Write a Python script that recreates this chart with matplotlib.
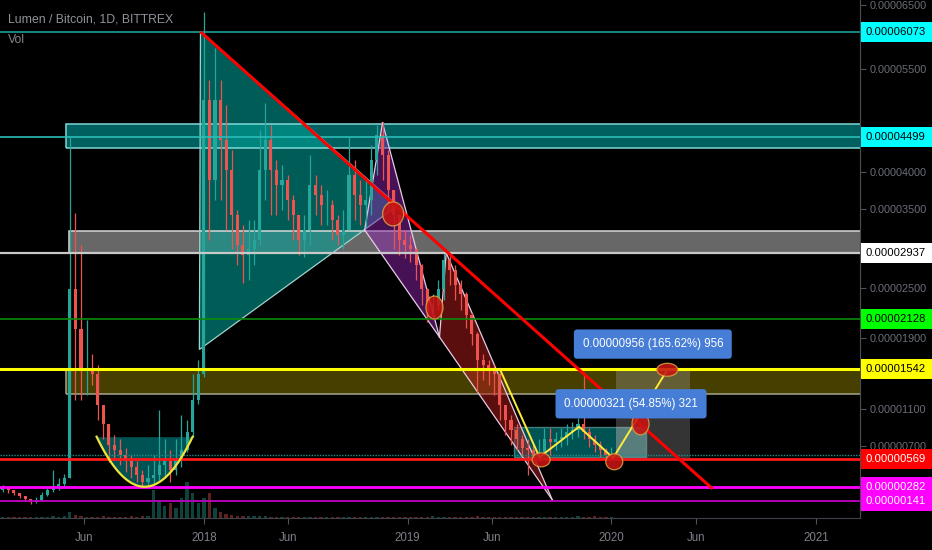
import numpy as np
import pandas as pd
import matplotlib
matplotlib.use("Agg")
import matplotlib.pyplot as plt
import matplotlib.dates as mdates
import matplotlib.transforms as mtransforms
from matplotlib.patches import Polygon, Ellipse, Rectangle

plt.rcParams['font.family'] = ['Liberation Sans', 'DejaVu Sans']

SAT = 1e-8  # values below are in satoshi (0.00000001 BTC)

# ---------------- data (10-day candles) ----------------
candle_start = "2017-01-01"
candle_step_days = 10
first_open = 250
close_sat = [270, 250, 220, 190, 160, 130, 150, 200, 250, 280,
             310, 370, 2480, 2000, 1530, 1530, 1480, 1140, 930, 710,
             660, 610, 540, 480, 400, 330, 370, 400, 500, 540,
             450, 560, 660, 850, 1200, 1480, 5030, 3900, 5030, 4450,
             4030, 3430, 3040, 2910, 2980, 3100, 4030, 4450, 4030, 3830,
             3900, 3630, 3430, 3100, 3230, 3830, 3690, 3560, 3560, 3360,
             3160, 3230, 3960, 3690, 3560, 3630, 4170, 4520, 4240, 3760,
             3430, 3100, 3040, 2980, 2780, 2480, 2230, 2290, 2480, 2850,
             2720, 2540, 2420, 2170, 1940, 1650, 1590, 1530, 1480, 1140,
             980, 870, 770, 680, 660, 610, 640, 770, 740, 770,
             800, 850, 870, 930, 850, 770, 710, 660, 610, 620]
high_sat = [300, 290, 250, 220, 190, 160, 180, 230, 270, 450,
            370, 410, 4499, 3450, 3040, 2110, 1710, 1590, 1140, 940,
            820, 770, 680, 610, 540, 450, 500, 610, 1090, 770,
            660, 770, 1030, 980, 1480, 1650, 6390, 5330, 5820, 5330,
            4960, 4310, 3490, 3300, 3360, 3360, 4600, 4990, 4670, 4170,
            4100, 3960, 3690, 3430, 3430, 4240, 3960, 3830, 3760, 3630,
            3430, 3490, 4500, 4170, 3900, 3900, 4380, 4670, 4710, 4310,
            3760, 3430, 3230, 3160, 2980, 2800, 2500, 2420, 2600, 2940,
            2910, 2780, 2600, 2450, 2200, 1970, 1710, 1650, 1590, 1500,
            1140, 1030, 930, 820, 770, 710, 770, 890, 890, 850,
            890, 930, 960, 1000, 1510, 890, 820, 750, 680, 690]
low_sat = [230, 220, 200, 170, 140, 110, 120, 140, 190, 230,
           250, 290, 370, 1200, 1200, 1250, 1360, 980, 770, 530,
           560, 500, 430, 370, 330, 290, 300, 310, 350, 370,
           330, 400, 480, 640, 800, 1150, 1450, 3100, 3630, 3630,
           3230, 2980, 2780, 2560, 2600, 2780, 3040, 3630, 3430, 3430,
           3490, 3360, 3100, 2910, 2890, 3040, 3430, 3300, 3300, 3100,
           3040, 2980, 3230, 3360, 3300, 3260, 3430, 3960, 3900, 3490,
           2980, 2910, 2870, 2820, 2600, 2290, 2090, 2130, 2230, 2350,
           2540, 2350, 2230, 2020, 1820, 1280, 1420, 1360, 1250, 980,
           820, 710, 660, 600, 400, 540, 540, 610, 610, 660,
           690, 710, 770, 800, 770, 690, 640, 590, 560, 560]
volume_k = [1, 1, 1, 1, 1, 1, 1, 1, 1, 2,
            1, 2, 6, 3, 2, 1, 1, 1, 2, 1,
            1, 1, 1, 2, 1, 2, 2, 28, 18, 12,
            15, 10, 20, 36, 25, 15, 20, 25, 10, 6,
            4, 3, 2, 2, 2, 2, 2, 2, 1, 1,
            1, 1, 1, 1, 1, 1, 1, 1, 1, 1,
            1, 1, 1, 1, 1, 1, 1, 1, 1, 1,
            1, 1, 1, 1, 1, 1, 1, 2, 1, 1,
            1, 1, 1, 1, 1, 2, 1, 1, 1, 1,
            1, 1, 1, 1, 1, 1, 1, 1, 1, 1,
            1, 1, 1, 2, 1, 1, 2, 1, 1, 1]

# horizontal levels (price, line colour, label colour, label text colour)
level_sat = [6073, 4499, 2937, 2128, 1542, 569, 282, 141]
level_line_colors = ['#1f9e98', '#2bbdb8', '#c8c8c8', '#0b8a0b', '#ffff00', '#ff1a1a', '#ff00ff', '#c000c0']
level_line_widths = [1.2, 1.2, 1.6, 1.2, 2.2, 2.0, 2.0, 1.3]
level_label_bg = ['#00ffff', '#00ffff', '#ffffff', '#00ff00', '#ffff00', '#ff0000', '#ff00ff', '#ff00ff']
level_label_fg = ['black', 'black', 'black', 'black', 'black', 'white', 'white', 'white']
dotted_level_sat = 610

# zones: start date, top, bottom
zone_start = ["2017-04-30", "2017-05-04", "2017-04-30"]
zone_top_sat = [4680, 3220, 1542]
zone_bot_sat = [4340, 2937, 1260]
zone_face = ['#00a0a0', '#909090', '#807400']
zone_alpha = [0.6, 0.72, 0.55]
zone_edge = ['#80d8d8', '#d8d8d8', '#a5a58f']

triangle_dates = ["2017-12-26", "2017-12-24", "2018-12-14"]
triangle_sat = [6073, 1765, 3550]

trend_dates = ["2017-12-26", "2020-06-30"]
trend_sat = [6073, 261]

xabcd_dates = ["2018-10-16", "2018-11-17", "2019-02-27", "2019-03-11", "2019-09-17"]
xabcd_sat = [3230, 4700, 1910, 2937, 150]

circle_dates = ["2018-12-06", "2019-02-18", "2019-08-28", "2020-01-06", "2020-02-22", "2020-04-10"]
circle_sat = [3440, 2260, 557, 537, 937, 1533]
circle_w_px = [21, 17, 18, 17, 17, 21]
circle_h_px = [24, 23, 14, 16, 22, 13]

zigzag_dates = ["2019-06-15", "2019-08-25", "2019-11-04", "2020-01-04", "2020-04-10"]
zigzag_sat = [1542, 585, 906, 577, 1533]

cup_dates = ["2017-06-23", "2017-09-19", "2017-12-12"]
cup_sat = [800, 282, 800]

range_box = ("2019-07-11", "2020-03-03", 585, 906)
measures = [("2020-01-09", "2020-05-20", 577, 1533, "0.00000956 (165.62%) 956", 18.5),
            ("2020-01-09", "2020-03-03", 585, 906, "0.00000321 (54.85%) 321", 16.5)]

ytick_sat = [6500, 5500, 4000, 3500, 2500, 1900, 1100, 700]
xtick_dates = ["2017-06-01", "2018-01-01", "2018-06-01", "2019-01-01",
               "2019-06-01", "2020-01-01", "2020-06-01", "2021-01-01"]
xtick_labels = ["Jun", "2018", "Jun", "2019", "Jun", "2020", "Jun", "2021"]
x_range = ("2017-01-01", "2021-03-21")
y_range_sat = (-29, 6582)

# ---------------- figure ----------------
W, H = 932, 550
fig = plt.figure(figsize=(W / 100, H / 100), dpi=100, facecolor='black')
pos = [0, 32 / H, 860 / W, 518 / H]
vax = fig.add_axes(pos, zorder=0)
ax = fig.add_axes(pos, zorder=1, sharex=vax)
ax.patch.set_visible(False)
vax.set_facecolor('black')


def fwd(p):
    return np.log10(np.asarray(p, dtype=float) + 1e-4)


def inv(t):
    return 10 ** np.asarray(t, dtype=float) - 1e-4


ax.set_yscale('function', functions=(fwd, inv))

d2n = lambda d: mdates.date2num(pd.Timestamp(d))

dates = pd.date_range(candle_start, periods=len(close_sat), freq=f"{candle_step_days}D") + pd.Timedelta(days=5)
xc = mdates.date2num(dates)
closes = np.array(close_sat) * SAT
opens = np.array([first_open] + close_sat[:-1]) * SAT
highs = np.array(high_sat) * SAT
lows = np.array(low_sat) * SAT
up = closes >= opens
col = np.where(up, '#26a69a', '#ef5350')

# volume
vax.bar(xc, volume_k, width=6, color=col, alpha=0.4, linewidth=0)
vax.set_ylim(0, max(volume_k) / 0.07)
vax.axis('off')

# zones
xmax_far = d2n("2022-01-01")
for s, t, b, fc, a, ec in zip(zone_start, zone_top_sat, zone_bot_sat, zone_face, zone_alpha, zone_edge):
    x0 = d2n(s)
    ax.add_patch(Rectangle((x0, b * SAT), xmax_far - x0, (t - b) * SAT, facecolor=fc, alpha=a,
                           edgecolor='none', zorder=1))
    ax.add_patch(Rectangle((x0, b * SAT), xmax_far - x0, (t - b) * SAT, facecolor='none',
                           edgecolor=ec, lw=1.1, zorder=1.1))

# big teal triangle
tri = [(d2n(d), p * SAT) for d, p in zip(triangle_dates, triangle_sat)]
ax.add_patch(Polygon(tri, closed=True, facecolor='#00a096', alpha=0.58, edgecolor='none', zorder=1))
ax.add_patch(Polygon(tri, closed=True, facecolor='none', edgecolor='#9fd4ce', lw=0.9, zorder=1.2))

# XABCD pattern
P = [(d2n(d), p * SAT) for d, p in zip(xabcd_dates, xabcd_sat)]
ax.add_patch(Polygon([P[0], P[1], P[2]], closed=True, facecolor='#8e24aa', alpha=0.5, edgecolor='none', zorder=1.3))
ax.add_patch(Polygon([P[2], P[3], P[4]], closed=True, facecolor='#b71c1c', alpha=0.5, edgecolor='none', zorder=1.3))
for a_, b_ in [(0, 1), (1, 2), (0, 2), (2, 3), (3, 4), (2, 4)]:
    ax.plot([P[a_][0], P[b_][0]], [P[a_][1], P[b_][1]], color='#e6cce6', lw=0.9, zorder=1.4)

# cup (arc with fill)
cx = np.array([d2n(d) for d in cup_dates])
cy = fwd(np.array(cup_sat) * SAT)
coef = np.polyfit(cx, cy, 2)
xs = np.linspace(cx[0], cx[-1], 120)
ys = inv(np.polyval(coef, xs))
ax.fill_between(xs, ys, cup_sat[0] * SAT, color='#008c8c', alpha=0.6, lw=0, zorder=1)

# 2019 range box
rx0, rx1 = d2n(range_box[0]), d2n(range_box[1])
ax.add_patch(Rectangle((rx0, range_box[2] * SAT), rx1 - rx0, (range_box[3] - range_box[2]) * SAT,
                       facecolor='#008c8c', alpha=0.6, edgecolor='#6fb3b3', lw=1, zorder=1))

# candles
ax.vlines(xc, lows, highs, colors=col, lw=0.9, zorder=2)
ax.bar(xc, closes - opens, bottom=opens, width=5.5, color=col, linewidth=0, zorder=2.1)

# measure boxes
for d0, d1, lo, hi, txt, off in measures:
    x0, x1 = d2n(d0), d2n(d1)
    ax.add_patch(Rectangle((x0, lo * SAT), x1 - x0, (hi - lo) * SAT, facecolor='#a0a0a0', alpha=0.33,
                           edgecolor='none', zorder=2.6))

# horizontal levels
for p, c, lw in zip(level_sat, level_line_colors, level_line_widths):
    ax.axhline(p * SAT, color=c, lw=lw, zorder=3)
ax.axhline(dotted_level_sat * SAT, color='#1f8f8a', lw=1.0, ls=(0, (1, 1)), zorder=3)

# trend line
ax.plot([d2n(d) for d in trend_dates], [p * SAT for p in trend_sat], color='#ff0000', lw=2.2,
        zorder=4, solid_capstyle='butt')

# yellow drawings
ax.plot(xs, ys, color='#f2e338', lw=1.6, zorder=4)
ax.plot([d2n(d) for d in zigzag_dates], [p * SAT for p in zigzag_sat], color='#ffeb3b', lw=1.4, zorder=4)

# ellipses
for d, p, w, h in zip(circle_dates, circle_sat, circle_w_px, circle_h_px):
    tr = fig.dpi_scale_trans + mtransforms.ScaledTranslation(d2n(d), p * SAT, ax.transData)
    ax.add_patch(Ellipse((0, 0), w / 100, h / 100, transform=tr, facecolor='#c81414', alpha=0.88,
                         edgecolor='#d8a040', lw=0.9, zorder=5))

# measure labels
for d0, d1, lo, hi, txt, off in measures:
    xm = (d2n(d0) + d2n(d1)) / 2
    ax.annotate(txt, xy=(xm, hi * SAT), xytext=(0, off), textcoords='offset points',
                ha='center', va='center', color='white', fontsize=8.3, zorder=6,
                bbox=dict(boxstyle='round,pad=0.75,rounding_size=0.3', fc='#467dd6', ec='none'))

# axes styling
ax.set_xlim(d2n(x_range[0]), d2n(x_range[1]))
ax.set_ylim(y_range_sat[0] * SAT, y_range_sat[1] * SAT)
ax.yaxis.tick_right()
ax.set_yticks([v * SAT for v in ytick_sat])
ax.set_yticklabels([f"{v * SAT:.8f}" for v in ytick_sat])
ax.yaxis.set_minor_locator(matplotlib.ticker.NullLocator())
ax.tick_params(axis='y', which='both', length=4, pad=3, colors='#4f525c', labelcolor='#6b6e78', labelsize=7.8)
ax.set_xticks([d2n(d) for d in xtick_dates])
ax.set_xticklabels(xtick_labels)
ax.tick_params(axis='x', length=4, pad=6, colors='#4f525c', labelcolor='#7d8089', labelsize=8.3)
for s in ['top', 'left']:
    ax.spines[s].set_visible(False)
ax.spines['bottom'].set_color('#3f424b')
ax.spines['right'].set_color('#4a4d56')

# price labels on the right axis
lab_tr = mtransforms.blended_transform_factory(ax.transAxes, ax.transData)
for p, bg, fg in zip(level_sat, level_label_bg, level_label_fg):
    tr = fig.dpi_scale_trans + mtransforms.ScaledTranslation(1.0, p * SAT, lab_tr)
    ax.add_patch(Rectangle((0.01, -0.10), 0.72, 0.20, transform=tr, facecolor=bg, edgecolor='none',
                           zorder=5, clip_on=False))
    ax.text(0.06, 0, f"{p * SAT:.8f}", transform=tr, ha='left', va='center', color=fg,
            fontsize=8.1, zorder=6, clip_on=False)

fig.text(8 / W, 1 - 19 / H, "Lumen / Bitcoin, 1D, BITTREX", color='#8f929b', fontsize=8.8, va='center')
fig.text(8 / W, 1 - 40 / H, "Vol", color='#7f828b', fontsize=8.8, va='center')

fig.savefig("out.png", dpi=100, facecolor='black')
